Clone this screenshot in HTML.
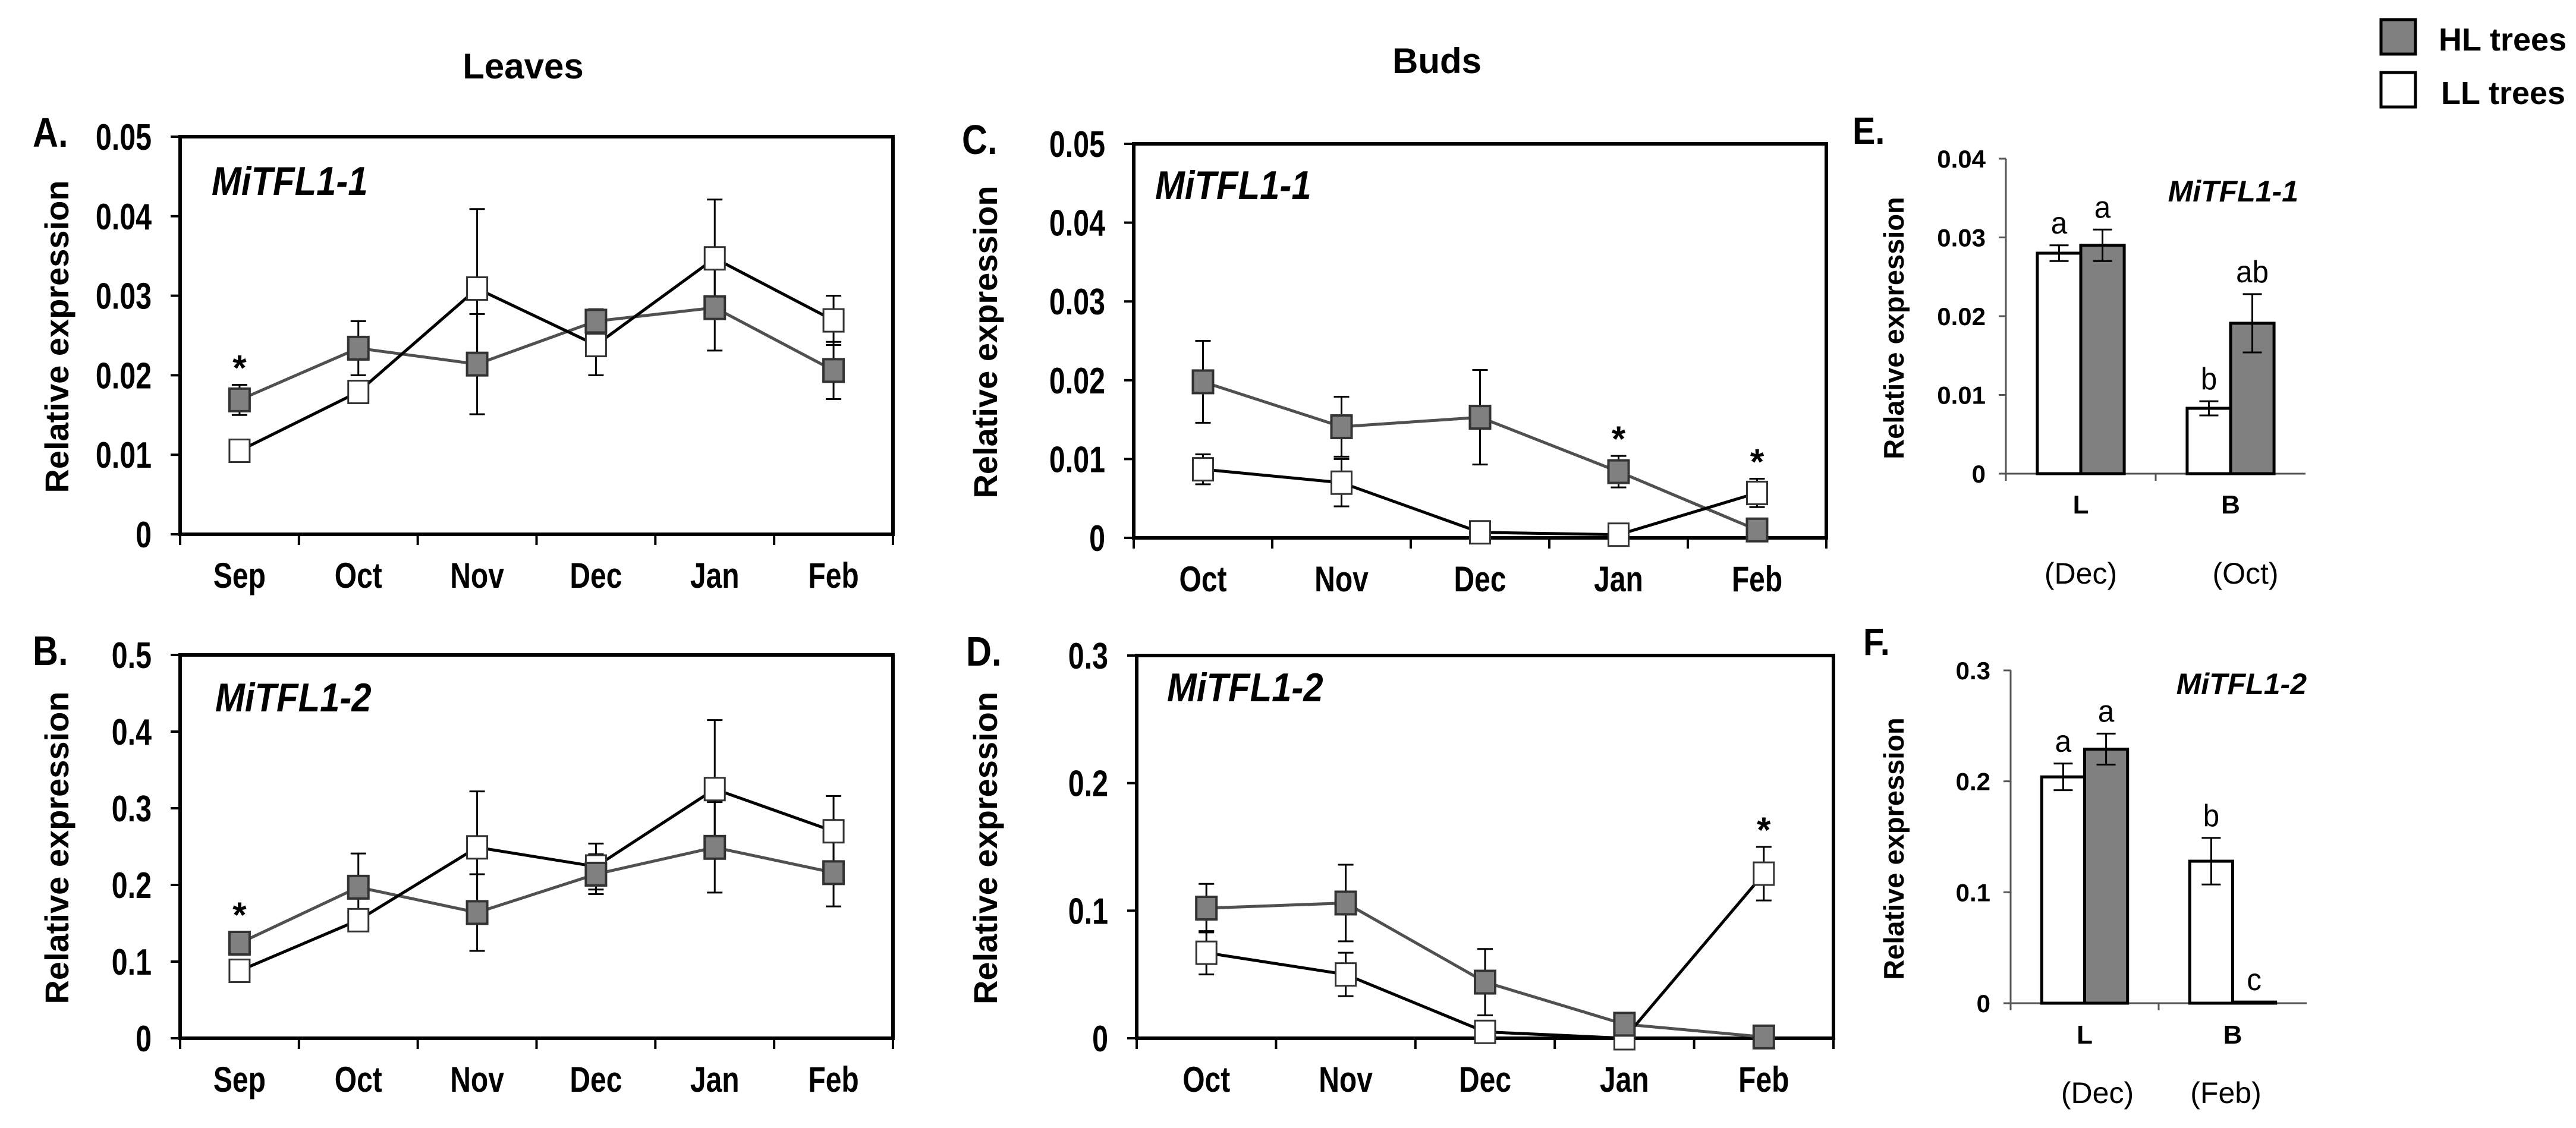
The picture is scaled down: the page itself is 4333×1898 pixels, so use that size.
<!DOCTYPE html>
<html><head><meta charset="utf-8"><style>
html,body{margin:0;padding:0;background:#fff;}
svg{display:block;font-family:"Liberation Sans",Arial,sans-serif;}
</style></head><body>
<svg id="fig" xmlns="http://www.w3.org/2000/svg" width="4333" height="1898" viewBox="0 0 4333 1898">
<rect x="0" y="0" width="4333" height="1898" fill="#fff"/>
<text x="880" y="132" text-anchor="middle" font-size="60" font-weight="bold">Leaves</text>
<text x="2417" y="123" text-anchor="middle" font-size="60" font-weight="bold">Buds</text>
<g>
<rect x="4005" y="33" width="58" height="58" fill="#808080" stroke="#000" stroke-width="5"/>
<text x="4102" y="85" font-size="54" font-weight="bold">HL trees</text>
<rect x="4005" y="122" width="58" height="58" fill="#fff" stroke="#000" stroke-width="5"/>
<text x="4106" y="175" font-size="54" font-weight="bold">LL trees</text>
</g>
</svg>
<script>
// ---- Data ----
var leafMonths = ["Sep","Oct","Nov","Dec","Jan","Feb"];
var budMonths = ["Oct","Nov","Dec","Jan","Feb"];
var ticksA = ["0","0.01","0.02","0.03","0.04","0.05"];
var ticksB = ["0","0.1","0.2","0.3","0.4","0.5"];
var ticksC = ["0","0.01","0.02","0.03","0.04","0.05"];
var ticksD = ["0","0.1","0.2","0.3"];
var ticksE = ["0","0.01","0.02","0.03","0.04"];
var ticksF = ["0","0.1","0.2","0.3"];
var hlA = [0.0169,0.0234,0.0214,0.0268,0.0285,0.0206];
var hlAErr = [0.0019,0.0034,0.0063,0.0015,0.0054,0.0036];
var llA = [0.0105,0.0179,0.0309,0.0238,0.0347,0.0269];
var llAErr = [0.0005,0.0005,0.0100,0.0038,0.0074,0.0031];
var hlB = [0.124,0.197,0.164,0.214,0.249,0.216];
var hlBErr = [0.010,0.044,0.050,0.026,0.059,0.044];
var llB = [0.088,0.154,0.249,0.224,0.325,0.270];
var llBErr = [0.005,0.010,0.073,0.030,0.090,0.046];
var hlC = [0.0198,0.0141,0.0153,0.0084,0.0010];
var hlCErr = [0.0052,0.0038,0.0060,0.0020,0.0003];
var llC = [0.0087,0.0070,0.0007,0.0004,0.0057];
var llCErr = [0.0019,0.0030,0.0003,0.0002,0.0018];
var hlD = [0.102,0.106,0.044,0.011,0.001];
var hlDErr = [0.019,0.030,0.026,0.002,0.001];
var llD = [0.067,0.050,0.005,0.000,0.129];
var llDErr = [0.017,0.017,0.002,0.001,0.021];
var barGroups = ["L","B"];
var llE = [0.0280,0.0083];
var llEErr = [0.0010,0.0009];
var hlE = [0.0290,0.0191];
var hlEErr = [0.0020,0.0037];
var lettersLLE = ["a","b"];
var lettersHLE = ["a","ab"];
var monthsE = ["(Dec)","(Oct)"];
var llF = [0.204,0.128];
var llFErr = [0.012,0.021];
var hlF = [0.229,0.001];
var hlFErr = [0.014,0];
var lettersLLF = ["a","b"];
var lettersHLF = ["a","c"];
var monthsF = ["(Dec)","(Feb)"];

var NS = "http://www.w3.org/2000/svg";
var svg = document.getElementById("fig");
function mk(tag, attrs, parent) {
  var e = document.createElementNS(NS, tag);
  for (var k in attrs) e.setAttribute(k, attrs[k]);
  (parent || svg).appendChild(e);
  return e;
}
function txt(parent, x, y, s, size, opts) {
  opts = opts || {};
  var t = mk("text", {"font-size": size, "text-anchor": opts.anchor || "start",
    transform: "translate(" + x + "," + y + ") scale(" + (opts.sx || 1) + ",1)" + (opts.rot ? " rotate(" + opts.rot + ")" : "")}, parent);
  if (opts.bold) t.setAttribute("font-weight", "bold");
  if (opts.italic) t.setAttribute("font-style", "italic");
  t.textContent = s;
  return t;
}

function linePanel(cfg) {
  var g = mk("g", {});
  
  
  var n = cfg.cats.length;
  var bw = (cfg.x1 - cfg.x0) / n;
  function X(i) { return cfg.x0 + bw * (i + 0.5); }
  function Y(v) { return cfg.y1 - (v / cfg.max) * (cfg.y1 - cfg.y0); }
  var fr = mk("rect", {x: cfg.x0, y: cfg.y0, width: cfg.x1 - cfg.x0, height: cfg.y1 - cfg.y0, fill: "none", stroke: "#000", "stroke-width": 6}, g);
  
  
  for (var t = 0; t < cfg.ticks.length; t++) {
    var v = cfg.max * t / (cfg.ticks.length - 1);
    mk("line", {x1: cfg.x0 - 16, x2: cfg.x0, y1: Y(v), y2: Y(v), stroke: "#000", "stroke-width": 4}, g);
    var tl = txt(g, cfg.x0 - 48, Y(v) + 22, cfg.ticks[t], 62, {anchor: "end", sx: 0.78, bold: true});
    
    
  }
  for (var i = 0; i <= n; i++) {
    mk("line", {x1: cfg.x0 + bw * i, x2: cfg.x0 + bw * i, y1: cfg.y1, y2: cfg.y1 + 18, stroke: "#000", "stroke-width": 4}, g);
  }
  for (var i = 0; i < n; i++) {
    var xl = txt(g, X(i), cfg.y1 + 90, cfg.cats[i], 60, {anchor: "middle", sx: 0.8, bold: true});
    
    
  }
  var yt = txt(g, cfg.titleX, (cfg.y0 + cfg.y1) / 2 + 2, "Relative expression", 56, {anchor: "middle", bold: true, rot: -90});
  
  
  var pl = txt(g, cfg.labelX, cfg.y0 + 17, cfg.panel, 70, {bold: true, sx: 0.85});
  
  
  var gn = txt(g, cfg.geneX, cfg.geneY, cfg.gene, 68, {bold: true, italic: true, sx: 0.88});
  
  
  var series = [[cfg.hl, cfg.hlErr], [cfg.ll, cfg.llErr]];
  series.forEach(function (s) {
    for (var i = 0; i < n; i++) {
      var yt1 = Y(s[0][i] + s[1][i]), yb = Y(Math.max(0, s[0][i] - s[1][i]));
      var eb = mk("path", {d: "M" + X(i) + "," + yt1 + "V" + yb + "M" + (X(i) - 13) + "," + yt1 + "H" + (X(i) + 13) + "M" + (X(i) - 13) + "," + yb + "H" + (X(i) + 13), stroke: "#000", "stroke-width": 3, fill: "none"}, g);
      
      
    }
  });
  function pts(arr) { return arr.map(function (v, i) { return X(i) + "," + Y(v); }).join(" "); }
  var lh = mk("polyline", {points: pts(cfg.hl), fill: "none", stroke: "#505050", "stroke-width": 5}, g);
  
  
  var ll = mk("polyline", {points: pts(cfg.ll), fill: "none", stroke: "#000", "stroke-width": 5}, g);
  
  
  for (var i = 0; i < n; i++) {
    var m1 = mk("rect", {x: X(i) - 17, y: Y(cfg.ll[i]) - 19, width: 34, height: 38, fill: "#fff", stroke: "#333", "stroke-width": 3}, g);
    
    
    var m2 = mk("rect", {x: X(i) - 17, y: Y(cfg.hl[i]) - 19, width: 34, height: 38, fill: "#808080", stroke: "#333", "stroke-width": 4}, g);
    
    
  }
  cfg.stars.forEach(function (s) {
    var arr = s[1] === "hl" ? [cfg.hl, cfg.hlErr] : [cfg.ll, cfg.llErr];
    var top = Math.min(Y(arr[0][s[0]] + arr[1][s[0]]), Y(arr[0][s[0]]) - 19);
    var st = txt(g, X(s[0]), top - 8, "*", 60, {anchor: "middle", bold: true});
    
    
  });
}

linePanel({name: "panel-a", panel: "A.", gene: "MiTFL1-1", x0: 303, x1: 1502, y0: 230, y1: 899, max: 0.05, ticks: ticksA, cats: leafMonths, hl: hlA, hlErr: hlAErr, ll: llA, llErr: llAErr, stars: [[0, "hl"]], titleX: 115, labelX: 55, geneX: 356, geneY: 328});
linePanel({name: "panel-b", panel: "B.", gene: "MiTFL1-2", x0: 303, x1: 1502, y0: 1102, y1: 1747, max: 0.5, ticks: ticksB, cats: leafMonths, hl: hlB, hlErr: hlBErr, ll: llB, llErr: llBErr, stars: [[0, "hl"]], titleX: 115, labelX: 55, geneX: 362, geneY: 1197});
linePanel({name: "panel-c", panel: "C.", gene: "MiTFL1-1", x0: 1907, x1: 3072, y0: 242, y1: 905, max: 0.05, ticks: ticksC, cats: budMonths, hl: hlC, hlErr: hlCErr, ll: llC, llErr: llCErr, stars: [[3, "hl"], [4, "ll"]], titleX: 1677, labelX: 1618, geneX: 1943, geneY: 335});
linePanel({name: "panel-d", panel: "D.", gene: "MiTFL1-2", x0: 1912, x1: 3084, y0: 1103, y1: 1747, max: 0.3, ticks: ticksD, cats: budMonths, hl: hlD, hlErr: hlDErr, ll: llD, llErr: llDErr, stars: [[4, "ll"]], titleX: 1677, labelX: 1625, geneX: 1963, geneY: 1180});

function barPanel(cfg) {
  var g = mk("g", {});
  
  
  var n = cfg.groups.length;
  var gw = (cfg.x1 - cfg.x0) / n;
  var barW = gw * 0.29;
  function Y(v) { return cfg.y1 - (v / cfg.max) * (cfg.y1 - cfg.y0); }
  function C(i) { return cfg.x0 + gw * (i + 0.5); }
  mk("line", {x1: cfg.x0, x2: cfg.x0, y1: cfg.y0, y2: cfg.y1 + 12, stroke: "#555", "stroke-width": 3}, g);
  mk("line", {x1: cfg.x0 - 12, x2: cfg.x1, y1: cfg.y1, y2: cfg.y1, stroke: "#555", "stroke-width": 3}, g);
  mk("line", {x1: cfg.x0 + gw, x2: cfg.x0 + gw, y1: cfg.y1, y2: cfg.y1 + 12, stroke: "#555", "stroke-width": 3}, g);
  for (var t = 0; t < cfg.ticks.length; t++) {
    var v = cfg.max * t / (cfg.ticks.length - 1);
    mk("line", {x1: cfg.x0 - 12, x2: cfg.x0, y1: Y(v), y2: Y(v), stroke: "#555", "stroke-width": 3}, g);
    var tl = txt(g, cfg.x0 - 34, Y(v) + 15, cfg.ticks[t], 42, {anchor: "end", bold: true});
    
    
  }
  var yt = txt(g, cfg.titleX, (cfg.y0 + cfg.y1) / 2 + 20, "Relative expression", 47, {anchor: "middle", bold: true, rot: -90});
  
  
  var pl = txt(g, cfg.labelX, cfg.labelY, cfg.panel, 64, {bold: true, sx: 0.9});
  
  
  var gn = txt(g, cfg.geneX, cfg.geneY, cfg.gene, 50, {bold: true, italic: true, anchor: "end"});
  
  
  for (var i = 0; i < n; i++) {
    var c = C(i) + cfg.shift;
    var specs = [[cfg.ll, cfg.llErr, c - barW, "#fff", cfg.lettersLL, 'bar-ll'], [cfg.hl, cfg.hlErr, c, "#808080", cfg.lettersHL, 'bar-hl']];
    specs.forEach(function (s) {
      var v = s[0][i], top = Y(v);
      var r = mk("rect", {x: s[2], y: top, width: barW, height: cfg.y1 - top, fill: s[3], stroke: "#000", "stroke-width": 5}, g);
      
      
      var cx = s[2] + barW / 2, et = Y(v + s[1][i]), eb = Y(Math.max(0, v - s[1][i]));
      var topMost = top;
      if (s[1][i] > 0) {
        var e = mk("path", {d: "M" + cx + "," + et + "V" + eb + "M" + (cx - 16) + "," + et + "H" + (cx + 16) + "M" + (cx - 16) + "," + eb + "H" + (cx + 16), stroke: "#000", "stroke-width": 3, fill: "none"}, g);
        
        
        topMost = et;
      }
      var lt = txt(g, cx, topMost - 20, s[4][i], 52, {anchor: "middle", sx: 0.95});
      
      
    });
    var gl = txt(g, c, cfg.y1 + cfg.groupDy, cfg.groups[i], 44, {anchor: "middle", bold: true});
    
    
    var ml = txt(g, cfg.monthX[i], cfg.monthY, cfg.months[i], 50, {anchor: "middle"});
    
    
  }
}

barPanel({name: "panel-e", panel: "E.", gene: "MiTFL1-1", x0: 3374, x1: 3878, y0: 267, y1: 797, max: 0.04, ticks: ticksE, groups: barGroups, ll: llE, llErr: llEErr, hl: hlE, hlErr: hlEErr, lettersLL: lettersLLE, lettersHL: lettersHLE, months: monthsE, monthX: [3500, 3777], monthY: 982, groupDy: 67, shift: 0, titleX: 3202, labelX: 3116, labelY: 242, geneX: 3866, geneY: 339});
barPanel({name: "panel-f", panel: "F.", gene: "MiTFL1-2", x0: 3382, x1: 3880, y0: 1128, y1: 1688, max: 0.3, ticks: ticksF, groups: barGroups, ll: llF, llErr: llFErr, hl: hlF, hlErr: hlFErr, lettersLL: lettersLLF, lettersHL: lettersHLF, months: monthsF, monthX: [3528, 3744], monthY: 1856, groupDy: 68, shift: 0, titleX: 3202, labelX: 3134, labelY: 1102, geneX: 3880, geneY: 1168});
</script>
</body></html>
